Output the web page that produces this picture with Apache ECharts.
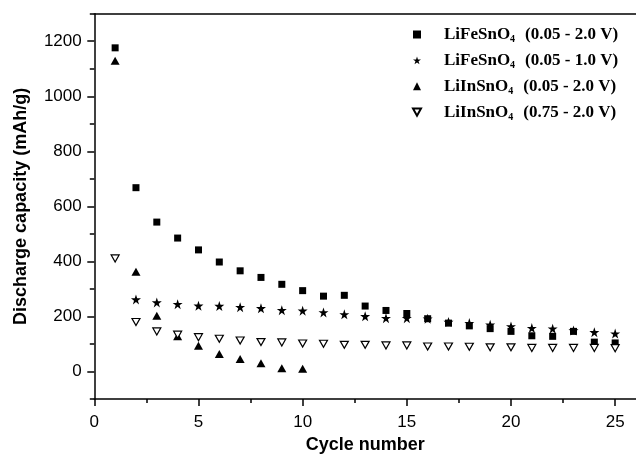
<!DOCTYPE html>
<html>
<head>
<meta charset="utf-8">
<script src="https://cdn.jsdelivr.net/npm/echarts@6/dist/echarts.min.js"></script>
<style>
html,body{margin:0;padding:0;background:#fff;}
#chart{width:636px;height:459px;}
</style>
</head>
<body>
<div id="chart"></div>
<script>
// ---- data ----
var cycles = [1,2,3,4,5,6,7,8,9,10,11,12,13,14,15,16,17,18,19,20,21,22,23,24,25];
var feSn_005_20 = [1176,668,543,485,442,398,366,342,317,294,274,277,238,222,211,192,176,166,156,146,130,128,146,107,104];
var feSn_005_10_cycles = [2,3,4,5,6,7,8,9,10,11,12,13,14,15,16,17,18,19,20,21,22,23,24,25];
var feSn_005_10 = [262,251,245,239,238,234,230,223,221,215,208,201,194,194,192,180,176,170,164,158,156,149,143,138];
var inSn_005_20_cycles = [1,2,3,4,5,6,7,8,9,10];
var inSn_005_20 = [1129,363,203,128,94,64,46,30,12,10];
var inSn_075_20 = [411,180,146,134,125,119,113,107,106,102,101,97,97,95,95,91,91,90,88,88,86,86,86,86,85];

var seriesNames = ['s1','s2','s3','s4'];
var legendTexts = {
  s1: ['LiFeSnO', '4', '(0.05 - 2.0 V)'],
  s2: ['LiFeSnO', '4', '(0.05 - 1.0 V)'],
  s3: ['LiInSnO', '4', '(0.05 - 2.0 V)'],
  s4: ['LiInSnO', '4', '(0.75 - 2.0 V)']
};
var xMajorTicks = [0,5,10,15,20,25];
var xMinorTicks = [2.5,7.5,12.5,17.5,22.5];
var yMajorTicks = [0,200,400,600,800,1000,1200];
var yMinorTicks = [-100,100,300,500,700,900,1100,1300];

function zip(xs, ys){ return xs.map(function(x,i){ return [x, ys[i]]; }); }

var starPath = 'path://M50,0 L61.8,35.4 L99,35.4 L69,57.3 L80.4,92.7 L50,70.8 L19.6,92.7 L31,57.3 L1,35.4 L38.2,35.4 Z';
var invTriPath = 'path://M0,0 L100,0 L50,90 Z';
var labelFont = 'Liberation Sans, Arial, sans-serif';
var serifFont = 'Liberation Serif, Times New Roman, serif';

var chart = echarts.init(document.getElementById('chart'), null, {renderer:'canvas'});
var option = {
  backgroundColor: '#fff',
  animation: false,
  grid: { left: 94.3, right: -7.4, top: 13.7, bottom: 56.3, containLabel: false },
  legend: {
    orient: 'vertical',
    left: 412, top: 26, padding: 0,
    itemWidth: 8, itemHeight: 8, itemGap: 7.4,
    data: seriesNames,
    formatter: function(name){
      var t = legendTexts[name];
      return '{g|}{a|' + t[0] + '}{s|' + t[1] + '}{g2|}{a|' + t[2] + '}';
    },
    textStyle: {
      color: '#000',
      rich: {
        g: { width: 18, fontSize: 17, lineHeight: 20 },
        g2: { width: 10, fontSize: 17, lineHeight: 20 },
        a: { fontFamily: serifFont, fontWeight: 'bold', fontSize: 17, lineHeight: 20, color: '#000', verticalAlign: 'middle' },
        s: { fontFamily: serifFont, fontWeight: 'bold', fontSize: 10, lineHeight: 4, color: '#000', verticalAlign: 'bottom' }
      }
    }
  },
  xAxis: [
    {
      type: 'value', min: 0, max: 26, position: 'bottom',
      name: 'Cycle number', nameLocation: 'middle', nameGap: 36.5,
      nameTextStyle: { fontFamily: labelFont, fontWeight: 'bold', fontSize: 18, color: '#000' },
      axisLine: { show: true, onZero: false, lineStyle: { color: '#000', width: 1.5 } },
      axisTick: { show: true, inside: false, length: 7, customValues: xMajorTicks, lineStyle: { color: '#000', width: 1.5 } },
      axisLabel: { customValues: xMajorTicks, fontFamily: labelFont, fontSize: 17, color: '#000', margin: 15,
                   formatter: function(v){ return String(v); } },
      splitLine: { show: false }
    },
    {
      type: 'value', min: 0, max: 26, position: 'bottom',
      axisLine: { show: false, onZero: false },
      axisTick: { show: true, inside: false, length: 4, customValues: xMinorTicks, lineStyle: { color: '#000', width: 1.5 } },
      axisLabel: { show: false },
      splitLine: { show: false }
    },
    {
      type: 'value', min: 0, max: 26, position: 'top',
      axisLine: { show: true, onZero: false, lineStyle: { color: '#000', width: 1.5 } },
      axisTick: { show: false }, axisLabel: { show: false }, splitLine: { show: false }
    }
  ],
  yAxis: [
    {
      type: 'value', min: -100, max: 1300, position: 'left',
      name: 'Discharge capacity (mAh/g)', nameLocation: 'middle', nameGap: 64, nameRotate: 90,
      nameTextStyle: { fontFamily: labelFont, fontWeight: 'bold', fontSize: 18, color: '#000' },
      axisLine: { show: true, onZero: false, lineStyle: { color: '#000', width: 1.5 } },
      axisTick: { show: true, inside: false, length: 7, customValues: yMajorTicks, lineStyle: { color: '#000', width: 1.5 } },
      axisLabel: { customValues: yMajorTicks, fontFamily: labelFont, fontSize: 17, color: '#000', margin: 12.6,
                   formatter: function(v){ return String(v); } },
      splitLine: { show: false }
    },
    {
      type: 'value', min: -100, max: 1300, position: 'left',
      axisLine: { show: false, onZero: false },
      axisTick: { show: true, inside: false, length: 4.5, customValues: yMinorTicks, lineStyle: { color: '#000', width: 1.5 } },
      axisLabel: { show: false },
      splitLine: { show: false }
    }
  ],
  series: [
    { name: 's1', type: 'scatter', xAxisIndex: 0, yAxisIndex: 0, symbol: 'rect', symbolSize: 7,
      itemStyle: { color: '#000', opacity: 1 }, data: zip(cycles, feSn_005_20) },
    { name: 's2', type: 'scatter', xAxisIndex: 0, yAxisIndex: 0, symbol: starPath, symbolSize: 10,
      itemStyle: { color: '#000', opacity: 1 }, data: zip(feSn_005_10_cycles, feSn_005_10) },
    { name: 's3', type: 'scatter', xAxisIndex: 0, yAxisIndex: 0, symbol: 'triangle', symbolSize: [9,8],
      itemStyle: { color: '#000', opacity: 1 }, data: zip(inSn_005_20_cycles, inSn_005_20) },
    { name: 's4', type: 'scatter', xAxisIndex: 0, yAxisIndex: 0, symbol: invTriPath, symbolSize: [8,7],
      itemStyle: { color: '#fff', borderColor: '#000', borderWidth: 1.2, opacity: 1 }, data: zip(cycles, inSn_075_20) }
  ]
};
chart.setOption(option);
</script>
</body>
</html>
